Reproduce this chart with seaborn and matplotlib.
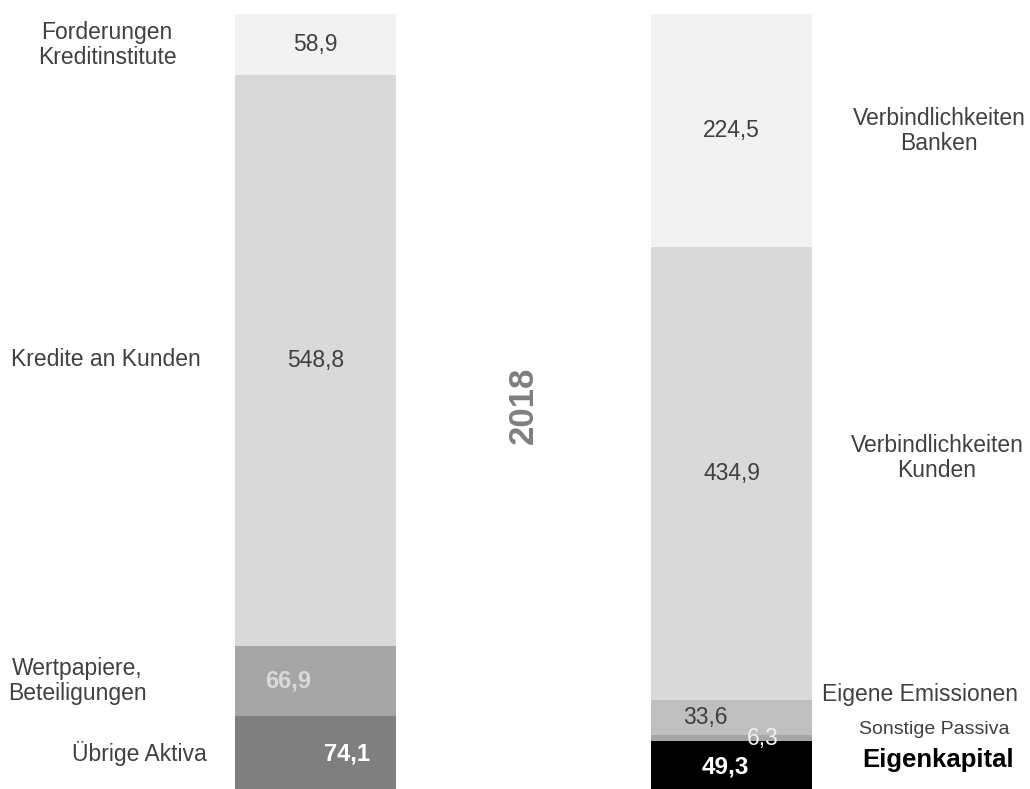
import matplotlib
matplotlib.use('Agg')
import matplotlib.pyplot as plt
import seaborn as sns
import pandas as pd

# --- DATA ---
sides = ["Aktiva", "Passiva"]

aktiva_labels = ["Übrige Aktiva", "Wertpapiere,\nBeteiligungen", "Kredite an Kunden",
                 "Forderungen\nKreditinstitute"]
aktiva_values = [74.1, 66.9, 548.8, 58.9]

passiva_labels = ["Eigenkapital", "Sonstige Passiva", "Eigene Emissionen",
                  "Verbindlichkeiten\nKunden", "Verbindlichkeiten\nBanken"]
passiva_values = [49.3, 6.3, 33.6, 434.9, 224.5]

year = "2018"

# --- STYLE ---
aktiva_colors = ["#7f7f7f", "#a6a6a6", "#d9d9d9", "#f2f2f2"]
passiva_colors = ["#000000", "#a6a6a6", "#bfbfbf", "#d9d9d9", "#f2f2f2"]
TEXT = "#404040"

# value label styles: (x offset in bar units, colour, bold, size)
aktiva_vstyle = [(0.076, "white", True, 17), (-0.066, "#d9d9d9", True, 17),
                 (0, TEXT, False, 16.5), (0, TEXT, False, 16.5)]
passiva_vstyle = [(-0.016, "white", True, 17.5), (0.076, "#f2f2f2", False, 16.5),
                  (-0.064, TEXT, False, 16.5), (0, TEXT, False, 16.5), (0, TEXT, False, 16.5)]

# category label positions in pixels (x, y) and style
aktiva_lpos = [(139, 754), (77, 681), (106, 360), (107, 45)]
passiva_lpos = [(938, 760), (934, 730), (920, 695), (937, 458), (939, 131)]
passiva_lstyle = [("black", True, 18.5), (TEXT, False, 14), (TEXT, False, 16.5),
                  (TEXT, False, 16.5), (TEXT, False, 16.5)]

sns.set_style("white")
plt.rcParams['font.family'] = ['Liberation Sans', 'DejaVu Sans']

rows = []
for side, labels, values, colors in [("Aktiva", aktiva_labels, aktiva_values, aktiva_colors),
                                     ("Passiva", passiva_labels, passiva_values, passiva_colors)]:
    cum = 0
    for lab, v, c in zip(labels, values, colors):
        rows.append(dict(side=side, label=lab, value=v, bottom=cum, top=cum + v, color=c))
        cum += v
df = pd.DataFrame(rows)

W, H = 1030, 789
fig = plt.figure(figsize=(W / 100, H / 100), dpi=100)
ax = fig.add_axes([0, 0, 1, 1])

# stacked bars: draw cumulative tops from tallest to shortest
for _, r in df.sort_values("top", ascending=False).iterrows():
    sns.barplot(x=[r.side], y=[r.top], order=sides, color=r.color, saturation=1,
                width=0.387, linewidth=0, ax=ax)

ax.set_xlim(-315.5 / 416, (W - 315.5) / 416)
ax.set_ylim((792.7 - H) / 1.0404, 792.7 / 1.0404)
ax.axis("off")


def fmt(v):
    return f"{v:.1f}".replace(".", ",")


# value labels at segment midpoints
for xi, side, vstyle in [(0, "Aktiva", aktiva_vstyle), (1, "Passiva", passiva_vstyle)]:
    sub = df[df.side == side].reset_index(drop=True)
    for i, r in sub.iterrows():
        dx, col, bold, size = vstyle[i]
        ax.text(xi + dx, (r.bottom + r.top) / 2, fmt(r.value), ha="center", va="center",
                color=col, fontsize=size, fontweight="bold" if bold else "normal")

# category labels
for lab, (px, py) in zip(aktiva_labels, aktiva_lpos):
    fig.text(px / W, 1 - py / H, lab, ha="center", va="center", color=TEXT,
             fontsize=16.5, linespacing=1.1)
for lab, (px, py), (col, bold, size) in zip(passiva_labels, passiva_lpos, passiva_lstyle):
    fig.text(px / W, 1 - py / H, lab, ha="center", va="center", color=col,
             fontsize=size, fontweight="bold" if bold else "normal", linespacing=1.1)

fig.text(523 / W, 1 - 405 / H, year, rotation=90, ha="center", va="center",
         color="#7f7f7f", fontsize=25, fontweight="bold")

fig.savefig("out.png", dpi=100)
plt.close(fig)
